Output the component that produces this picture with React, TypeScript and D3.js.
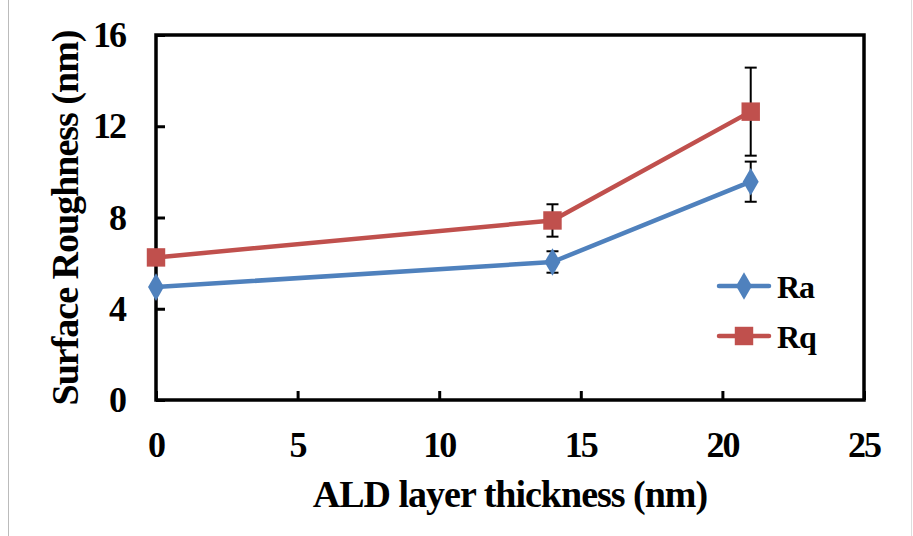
import { useEffect, useRef } from "react";
import * as d3 from "d3";

// values
const thickness = [0, 14, 21];
const raValues = [4.95, 6.05, 9.57];
const raErrors = [0, 0.47, 0.88];
const rqValues = [6.25, 7.87, 12.64];
const rqErrors = [0, 0.71, 1.93];
const xTicks = [0, 5, 10, 15, 20, 25];
const yTicks = [0, 4, 8, 12, 16];
const seriesNames = ["Ra", "Rq"];

const BLUE = "#4F81BD";
const RED = "#C0504D";
const FONT = "'Liberation Serif', 'Times New Roman', serif";

function App() {
  const svgRef = useRef<SVGSVGElement>(null);

  useEffect(() => {
    const w = 913;
    const h = 536;
    const left = 156, right = 864, top = 35, bottom = 400;

    const svg = d3.select(svgRef.current).attr("width", w).attr("height", h);
    svg.selectAll("*").remove();

    svg.append("rect").attr("width", w).attr("height", h).attr("fill", "#fff");
    // page borders
    svg.append("line").attr("x1", 8.5).attr("x2", 8.5).attr("y1", 0).attr("y2", h)
      .attr("stroke", "#bbb").attr("stroke-width", 1);
    svg.append("line").attr("x1", 911.5).attr("x2", 911.5).attr("y1", 0).attr("y2", h)
      .attr("stroke", "#ddd").attr("stroke-width", 1);

    const xScale = d3.scaleLinear().domain([0, 25]).range([left, right]);
    const yScale = d3.scaleLinear().domain([0, 16]).range([bottom, top]);

    // inward ticks
    const xAxis = d3.axisTop(xScale).tickValues(xTicks).tickSize(9).tickFormat(() => "");
    const yAxis = d3.axisRight(yScale).tickValues(yTicks).tickSize(9).tickFormat(() => "");
    const gx = svg.append("g").attr("transform", `translate(0,${bottom})`).call(xAxis);
    const gy = svg.append("g").attr("transform", `translate(${left},0)`).call(yAxis);
    [gx, gy].forEach((g) => {
      g.select(".domain").remove();
      g.selectAll("line").attr("stroke", "#000").attr("stroke-width", 3);
    });

    svg.append("rect")
      .attr("x", left).attr("y", top)
      .attr("width", right - left).attr("height", bottom - top)
      .attr("fill", "none").attr("stroke", "#000").attr("stroke-width", 3.5);

    // tick labels
    svg.append("g").selectAll("text").data(xTicks).join("text")
      .attr("x", (d) => xScale(d)).attr("y", 457)
      .attr("text-anchor", "middle")
      .attr("font-family", FONT).attr("font-weight", "bold").attr("font-size", 36)
      .attr("letter-spacing", -2)
      .text((d) => d);
    svg.append("g").selectAll("text").data(yTicks).join("text")
      .attr("x", 125).attr("y", (d) => yScale(d) + 12)
      .attr("text-anchor", "end")
      .attr("font-family", FONT).attr("font-weight", "bold").attr("font-size", 36)
      .attr("letter-spacing", -2)
      .text((d) => d);

    // axis titles
    svg.append("text")
      .attr("x", 510).attr("y", 507)
      .attr("text-anchor", "middle")
      .attr("font-family", FONT).attr("font-weight", "bold").attr("font-size", 38)
      .attr("letter-spacing", -1)
      .text("ALD layer thickness (nm)");
    svg.append("text")
      .attr("transform", `translate(78,218) rotate(-90)`)
      .attr("text-anchor", "middle")
      .attr("font-family", FONT).attr("font-weight", "bold").attr("font-size", 38)
      .attr("letter-spacing", -1)
      .text("Surface Roughness (nm)");

    const series = [
      { name: seriesNames[0], values: raValues, errors: raErrors, color: BLUE, shape: d3.symbolDiamond, size: 220 },
      { name: seriesNames[1], values: rqValues, errors: rqErrors, color: RED, shape: d3.symbolSquare, size: 340 },
    ];

    const line = d3.line<number>().x((_, i) => xScale(thickness[i])).y((d) => yScale(d));

    series.forEach((s) => {
      svg.append("path")
        .attr("d", line(s.values))
        .attr("fill", "none").attr("stroke", s.color).attr("stroke-width", 4.5)
        .attr("stroke-linejoin", "round").attr("stroke-linecap", "round");
    });

    // error bars
    series.forEach((s) => {
      const g = svg.append("g").attr("stroke", "#000").attr("stroke-width", 2);
      s.values.forEach((v, i) => {
        if (!s.errors[i]) return;
        const x = xScale(thickness[i]);
        const y1 = yScale(v + s.errors[i]);
        const y2 = yScale(v - s.errors[i]);
        g.append("line").attr("x1", x).attr("x2", x).attr("y1", y1).attr("y2", y2);
        g.append("line").attr("x1", x - 6).attr("x2", x + 6).attr("y1", y1).attr("y2", y1);
        g.append("line").attr("x1", x - 6).attr("x2", x + 6).attr("y1", y2).attr("y2", y2);
      });
    });

    series.forEach((s) => {
      const sym = d3.symbol().type(s.shape).size(s.size);
      svg.append("g").selectAll("path").data(s.values).join("path")
        .attr("transform", (d, i) => `translate(${xScale(thickness[i])},${yScale(d)})`)
        .attr("d", sym())
        .attr("fill", s.color);
    });

    // legend
    const legend = svg.append("g");
    series.forEach((s, i) => {
      const y = 286 + i * 50;
      legend.append("line").attr("x1", 719).attr("x2", 769).attr("y1", y).attr("y2", y)
        .attr("stroke", s.color).attr("stroke-width", 4.5).attr("stroke-linecap", "round");
      legend.append("path")
        .attr("transform", `translate(744,${y})`)
        .attr("d", d3.symbol().type(s.shape).size(s.size)())
        .attr("fill", s.color);
      legend.append("text")
        .attr("x", 777).attr("y", y + 12)
        .attr("font-family", FONT).attr("font-weight", "bold").attr("font-size", 32)
        .attr("letter-spacing", -1)
        .text(s.name);
    });
  }, []);

  return <svg ref={svgRef} style={{ position: "absolute", left: 0, top: 0, display: "block" }}></svg>;
}

export default App;
